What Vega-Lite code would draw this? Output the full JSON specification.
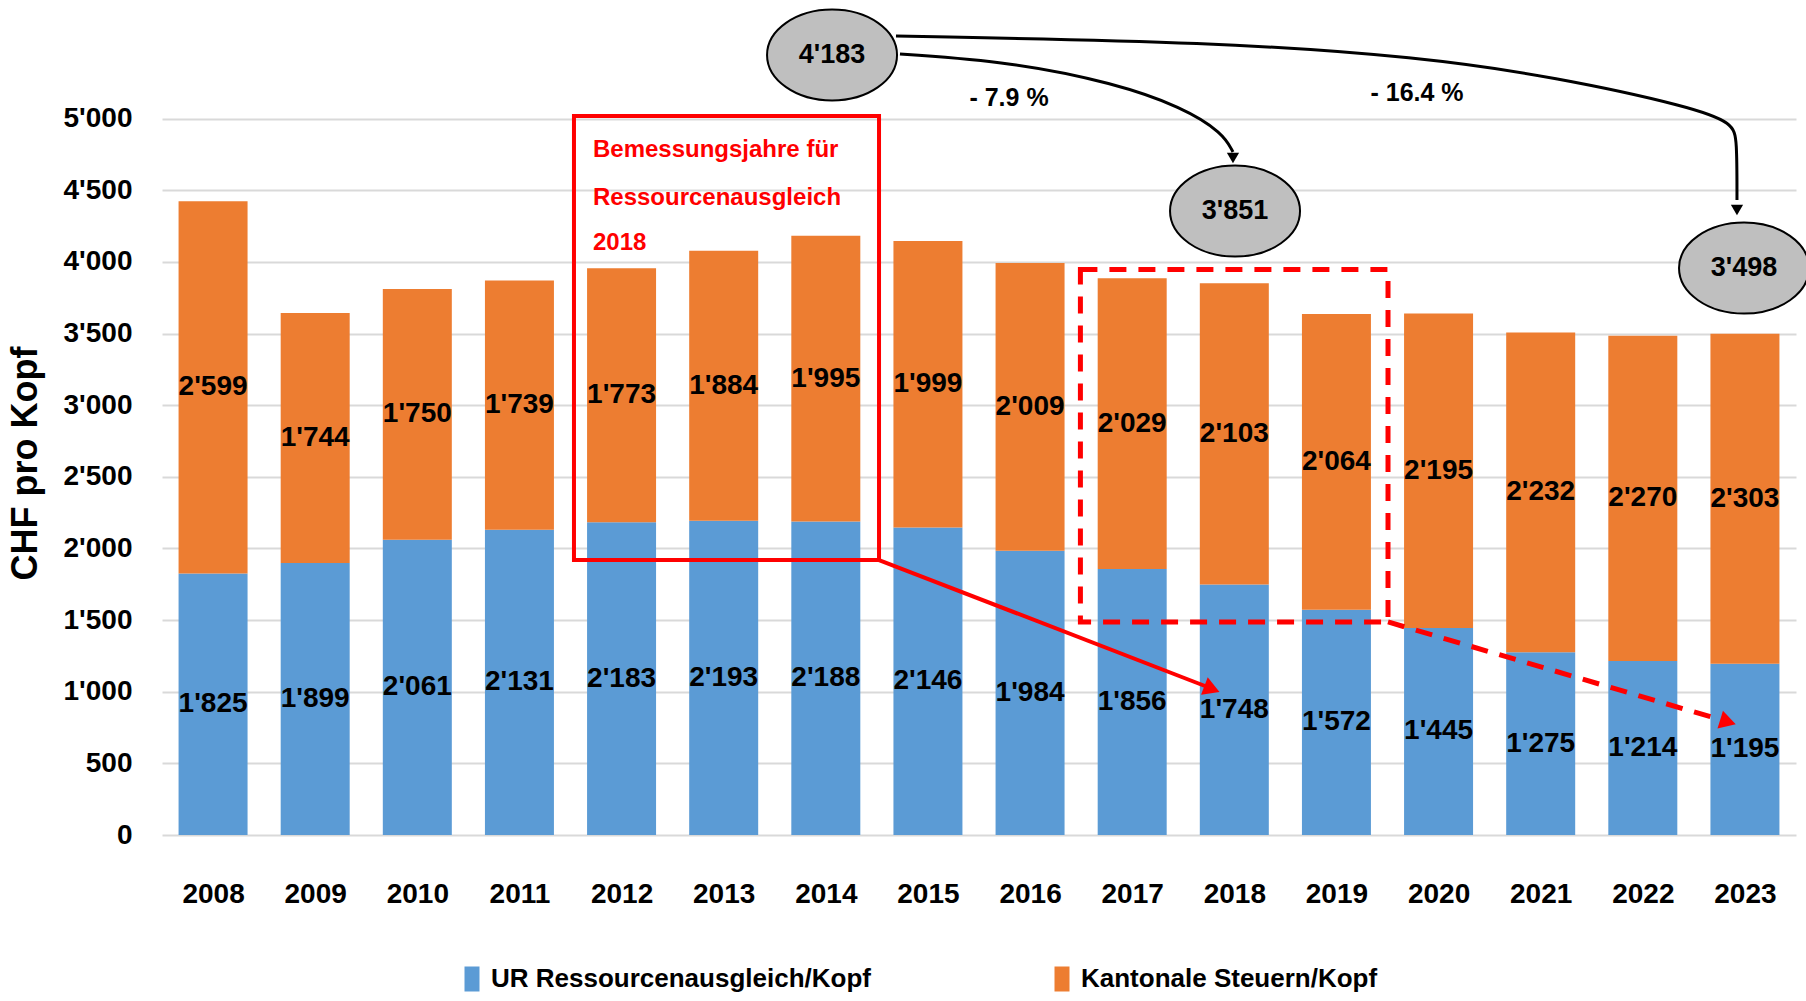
{
  "$schema": "https://vega.github.io/schema/vega-lite/v6.json",
  "width": 1634,
  "height": 831,
  "autosize": {"type": "none"},
  "padding": {"left": 162, "top": 4, "right": 10, "bottom": 166},
  "background": "white",
  "config": {
    "locale": {"number": {"decimal": ".", "thousands": "'", "grouping": [3], "currency": ["", ""]}},
    "view": {"stroke": null}
  },
  "datasets": {
    "bars": [
      {"year": 2008, "series": "UR Ressourcenausgleich/Kopf", "value": 1825, "order": 1},
      {"year": 2009, "series": "UR Ressourcenausgleich/Kopf", "value": 1899, "order": 1},
      {"year": 2010, "series": "UR Ressourcenausgleich/Kopf", "value": 2061, "order": 1},
      {"year": 2011, "series": "UR Ressourcenausgleich/Kopf", "value": 2131, "order": 1},
      {"year": 2012, "series": "UR Ressourcenausgleich/Kopf", "value": 2183, "order": 1},
      {"year": 2013, "series": "UR Ressourcenausgleich/Kopf", "value": 2193, "order": 1},
      {"year": 2014, "series": "UR Ressourcenausgleich/Kopf", "value": 2188, "order": 1},
      {"year": 2015, "series": "UR Ressourcenausgleich/Kopf", "value": 2146, "order": 1},
      {"year": 2016, "series": "UR Ressourcenausgleich/Kopf", "value": 1984, "order": 1},
      {"year": 2017, "series": "UR Ressourcenausgleich/Kopf", "value": 1856, "order": 1},
      {"year": 2018, "series": "UR Ressourcenausgleich/Kopf", "value": 1748, "order": 1},
      {"year": 2019, "series": "UR Ressourcenausgleich/Kopf", "value": 1572, "order": 1},
      {"year": 2020, "series": "UR Ressourcenausgleich/Kopf", "value": 1445, "order": 1},
      {"year": 2021, "series": "UR Ressourcenausgleich/Kopf", "value": 1275, "order": 1},
      {"year": 2022, "series": "UR Ressourcenausgleich/Kopf", "value": 1214, "order": 1},
      {"year": 2023, "series": "UR Ressourcenausgleich/Kopf", "value": 1195, "order": 1},
      {"year": 2008, "series": "Kantonale Steuern/Kopf", "value": 2599, "order": 2},
      {"year": 2009, "series": "Kantonale Steuern/Kopf", "value": 1744, "order": 2},
      {"year": 2010, "series": "Kantonale Steuern/Kopf", "value": 1750, "order": 2},
      {"year": 2011, "series": "Kantonale Steuern/Kopf", "value": 1739, "order": 2},
      {"year": 2012, "series": "Kantonale Steuern/Kopf", "value": 1773, "order": 2},
      {"year": 2013, "series": "Kantonale Steuern/Kopf", "value": 1884, "order": 2},
      {"year": 2014, "series": "Kantonale Steuern/Kopf", "value": 1995, "order": 2},
      {"year": 2015, "series": "Kantonale Steuern/Kopf", "value": 1999, "order": 2},
      {"year": 2016, "series": "Kantonale Steuern/Kopf", "value": 2009, "order": 2},
      {"year": 2017, "series": "Kantonale Steuern/Kopf", "value": 2029, "order": 2},
      {"year": 2018, "series": "Kantonale Steuern/Kopf", "value": 2103, "order": 2},
      {"year": 2019, "series": "Kantonale Steuern/Kopf", "value": 2064, "order": 2},
      {"year": 2020, "series": "Kantonale Steuern/Kopf", "value": 2195, "order": 2},
      {"year": 2021, "series": "Kantonale Steuern/Kopf", "value": 2232, "order": 2},
      {"year": 2022, "series": "Kantonale Steuern/Kopf", "value": 2270, "order": 2},
      {"year": 2023, "series": "Kantonale Steuern/Kopf", "value": 2303, "order": 2}
    ],
    "box_solid": [{"x1": 2011.534, "x2": 2014.521, "y1": 1919, "y2": 5018}],
    "box_dashed": [{"x1": 2016.493, "x2": 2019.505, "y1": 1487, "y2": 3947}],
    "box_text": [
      {"x": 2011.72, "y": 4783, "text": "Bemessungsjahre für"},
      {"x": 2011.72, "y": 4446, "text": "Ressourcenausgleich"},
      {"x": 2011.72, "y": 4132, "text": "2018"}
    ],
    "arrow_solid": [
      {"x": 2014.521, "y": 1919},
      {"x": 2017.713, "y": 1040}
    ],
    "arrow_solid_head": [{"x": 2017.781, "y": 1019}],
    "arrow_dashed": [
      {"x": 2019.505, "y": 1487},
      {"x": 2022.736, "y": 810}
    ],
    "arrow_dashed_head": [{"x": 2022.834, "y": 789}],
    "curves": [
      {"curve": "a", "order": 1, "x": 2014.726, "y": 5451},
      {"curve": "a", "order": 2, "x": 2015.823, "y": 5395},
      {"curve": "a", "order": 3, "x": 2016.822, "y": 5248},
      {"curve": "a", "order": 4, "x": 2017.488, "y": 5081},
      {"curve": "a", "order": 5, "x": 2017.889, "y": 4900},
      {"curve": "a", "order": 6, "x": 2017.987, "y": 4767},
      {"curve": "b", "order": 1, "x": 2014.687, "y": 5576},
      {"curve": "b", "order": 2, "x": 2017.821, "y": 5535},
      {"curve": "b", "order": 3, "x": 2019.818, "y": 5430},
      {"curve": "b", "order": 4, "x": 2021.15, "y": 5290},
      {"curve": "b", "order": 5, "x": 2022.482, "y": 5081},
      {"curve": "b", "order": 6, "x": 2022.883, "y": 4969},
      {"curve": "b", "order": 7, "x": 2022.922, "y": 4851},
      {"curve": "b", "order": 8, "x": 2022.922, "y": 4432}
    ],
    "curve_heads": [
      {"x": 2017.987, "y": 4725},
      {"x": 2022.922, "y": 4362}
    ],
    "bubbles": [
      {"x": 2014.061, "y": 5444, "label": "4'183"},
      {"x": 2018.007, "y": 4355, "label": "3'851"},
      {"x": 2022.991, "y": 3957, "label": "3'498"}
    ],
    "pct": [
      {"x": 2015.794, "y": 5144, "label": "- 7.9 %"},
      {"x": 2019.789, "y": 5179, "label": "- 16.4 %"}
    ]
  },
  "layer": [
    {
      "data": {"name": "bars"},
      "transform": [
        {"stack": "value", "groupby": ["year"], "sort": [{"field": "order", "order": "ascending"}], "as": ["v0", "v1"]},
        {"calculate": "(datum.v0 + datum.v1) / 2", "as": "mid"}
      ],
      "layer": [
        {
          "mark": {"type": "bar", "width": 69},
          "encoding": {
            "x": {
              "field": "year", "type": "quantitative",
              "scale": {"domain": [2007.5, 2023.5], "nice": false, "zero": false, "padding": 0},
              "title": null,
              "axis": {
                "values": [2008, 2009, 2010, 2011, 2012, 2013, 2014, 2015, 2016, 2017, 2018, 2019, 2020, 2021, 2022, 2023],
                "format": "d", "grid": false, "ticks": false, "domain": false,
                "labelFontSize": 28, "labelFont": "Liberation Sans, Arial, sans-serif",
                "labelFontWeight": "bold", "labelColor": "black", "labelPadding": 45,
                "labelOverlap": false, "labelFlush": false
              }
            },
            "y": {
              "field": "v1", "type": "quantitative",
              "scale": {"domain": [0, 5800], "nice": false},
              "title": "CHF pro Kopf",
              "axis": {
                "values": [0, 500, 1000, 1500, 2000, 2500, 3000, 3500, 4000, 4500, 5000],
                "format": ",d", "grid": true, "gridColor": "#D9D9D9", "gridWidth": 2,
                "domain": false, "ticks": false,
                "labelFontSize": 28, "labelFont": "Liberation Sans, Arial, sans-serif",
                "labelFontWeight": "bold", "labelColor": "black", "labelPadding": 30, "labelBaseline": "middle",
                "titleFontSize": 36, "titleFont": "Liberation Sans, Arial, sans-serif", "titleFontWeight": "bold",
                "titleColor": "black", "titleX": -137, "titleY": 459, "titleAngle": 270,
                "titleAlign": "center", "titleBaseline": "middle"
              }
            },
            "y2": {"field": "v0"},
            "color": {
              "field": "series", "type": "nominal",
              "scale": {"domain": ["UR Ressourcenausgleich/Kopf", "Kantonale Steuern/Kopf"], "range": ["#5B9BD5", "#ED7D31"]},
              "legend": {
                "orient": "none", "legendX": 297, "legendY": 962, "direction": "horizontal", "title": null,
                "symbolType": "M-0.6,-1H0.6V1H-0.6Z", "symbolSize": 625, "symbolStrokeWidth": 0,
                "labelFontSize": 26, "labelFont": "Liberation Sans, Arial, sans-serif",
                "labelFontWeight": "bold", "labelColor": "black", "labelOffset": 6, "labelLimit": 700,
                "columnPadding": 178, "padding": 0
              }
            }
          }
        },
        {
          "mark": {"type": "text", "fontSize": 28, "font": "Liberation Sans, Arial, sans-serif", "fontWeight": "bold", "color": "black", "baseline": "middle"},
          "encoding": {
            "x": {"field": "year", "type": "quantitative"},
            "y": {"field": "mid", "type": "quantitative"},
            "text": {"field": "value", "type": "quantitative", "format": ",d"}
          }
        }
      ]
    },
    {
      "data": {"name": "box_solid"},
      "mark": {"type": "rect", "fill": null, "stroke": "#FF0000", "strokeWidth": 4},
      "encoding": {
        "x": {"field": "x1", "type": "quantitative"},
        "x2": {"field": "x2"},
        "y": {"field": "y1", "type": "quantitative"},
        "y2": {"field": "y2"}
      }
    },
    {
      "data": {"name": "box_text"},
      "mark": {"type": "text", "align": "left", "baseline": "middle", "fontSize": 24, "font": "Liberation Sans, Arial, sans-serif", "fontWeight": "bold", "color": "#FF0000"},
      "encoding": {
        "x": {"field": "x", "type": "quantitative"},
        "y": {"field": "y", "type": "quantitative"},
        "text": {"field": "text", "type": "nominal"}
      }
    },
    {
      "data": {"name": "arrow_solid"},
      "mark": {"type": "line", "color": "#FF0000", "strokeWidth": 4},
      "encoding": {
        "x": {"field": "x", "type": "quantitative"},
        "y": {"field": "y", "type": "quantitative"}
      }
    },
    {
      "data": {"name": "arrow_solid_head"},
      "mark": {"type": "point", "shape": "triangle-right", "filled": true, "color": "#FF0000", "opacity": 1, "size": 350, "angle": 21},
      "encoding": {
        "x": {"field": "x", "type": "quantitative"},
        "y": {"field": "y", "type": "quantitative"}
      }
    },
    {
      "data": {"name": "box_dashed"},
      "mark": {"type": "rect", "fill": null, "stroke": "#FF0000", "strokeWidth": 5, "strokeDash": [17, 12]},
      "encoding": {
        "x": {"field": "x1", "type": "quantitative"},
        "x2": {"field": "x2"},
        "y": {"field": "y1", "type": "quantitative"},
        "y2": {"field": "y2"}
      }
    },
    {
      "data": {"name": "arrow_dashed"},
      "mark": {"type": "line", "color": "#FF0000", "strokeWidth": 5, "strokeDash": [17, 12]},
      "encoding": {
        "x": {"field": "x", "type": "quantitative"},
        "y": {"field": "y", "type": "quantitative"}
      }
    },
    {
      "data": {"name": "arrow_dashed_head"},
      "mark": {"type": "point", "shape": "triangle-right", "filled": true, "color": "#FF0000", "opacity": 1, "size": 350, "angle": 17},
      "encoding": {
        "x": {"field": "x", "type": "quantitative"},
        "y": {"field": "y", "type": "quantitative"}
      }
    },
    {
      "data": {"name": "curves"},
      "mark": {"type": "line", "color": "black", "strokeWidth": 3, "interpolate": "basis"},
      "encoding": {
        "x": {"field": "x", "type": "quantitative"},
        "y": {"field": "y", "type": "quantitative"},
        "detail": {"field": "curve", "type": "nominal"},
        "order": {"field": "order", "type": "quantitative"}
      }
    },
    {
      "data": {"name": "curve_heads"},
      "mark": {"type": "point", "shape": "triangle-down", "filled": true, "color": "black", "opacity": 1, "size": 150},
      "encoding": {
        "x": {"field": "x", "type": "quantitative"},
        "y": {"field": "y", "type": "quantitative"}
      }
    },
    {
      "data": {"name": "bubbles"},
      "mark": {"type": "point", "shape": "M-1,0A1,0.7,0,1,1,1,0A1,0.7,0,1,1,-1,0Z", "filled": true, "fill": "#BFBFBF", "stroke": "black", "strokeWidth": 2, "opacity": 1, "size": 16900},
      "encoding": {
        "x": {"field": "x", "type": "quantitative"},
        "y": {"field": "y", "type": "quantitative"}
      }
    },
    {
      "data": {"name": "bubbles"},
      "mark": {"type": "text", "fontSize": 27, "font": "Liberation Sans, Arial, sans-serif", "fontWeight": "bold", "color": "black", "baseline": "middle"},
      "encoding": {
        "x": {"field": "x", "type": "quantitative"},
        "y": {"field": "y", "type": "quantitative"},
        "text": {"field": "label", "type": "nominal"}
      }
    },
    {
      "data": {"name": "pct"},
      "mark": {"type": "text", "fontSize": 25, "font": "Liberation Sans, Arial, sans-serif", "fontWeight": "bold", "color": "black", "baseline": "middle"},
      "encoding": {
        "x": {"field": "x", "type": "quantitative"},
        "y": {"field": "y", "type": "quantitative"},
        "text": {"field": "label", "type": "nominal"}
      }
    }
  ]
}
